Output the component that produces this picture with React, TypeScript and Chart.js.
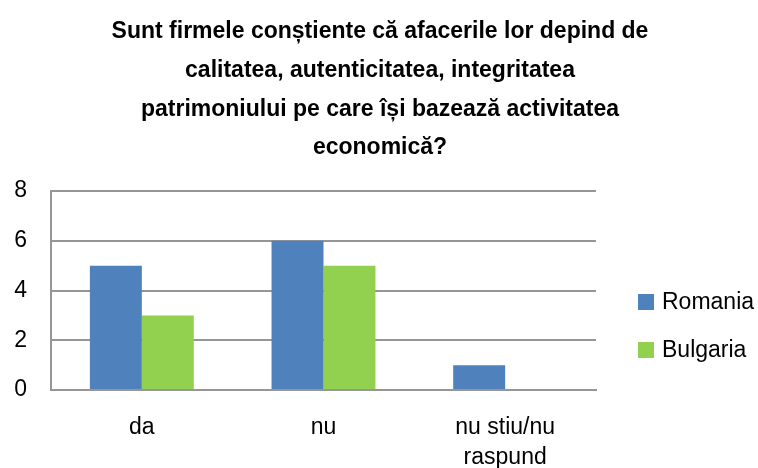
import React, { useEffect, useRef } from "react";
import { Chart, registerables } from "chart.js";

Chart.register(...registerables);

const titleLines = [
  "Sunt firmele conștiente că afacerile lor depind de",
  "calitatea, autenticitatea, integritatea",
  "patrimoniului pe care își bazează activitatea",
  "economică?",
];
const categories: (string | string[])[] = ["da", "nu", ["nu stiu/nu", "raspund"]];
const romania = [5, 6, 1];
const bulgaria = [3, 5, 0];
const seriesNames = ["Romania", "Bulgaria"];
const seriesColors = ["#4F81BD", "#92D050"];
const yTicks = [0, 2, 4, 6, 8];

const FONT = "'Liberation Sans', Arial, sans-serif";

const titlePlugin = {
  id: "centerTitle",
  afterDraw(chart: any) {
    const ctx = chart.ctx;
    ctx.save();
    ctx.font = `bold 23px ${FONT}`;
    ctx.textBaseline = "middle";
    ctx.textAlign = "center";
    ctx.fillStyle = "#000";
    titleLines.forEach((line, i) => {
      ctx.fillText(line, chart.width / 2 + 1, 32 + i * 38.7);
    });
    ctx.restore();
  },
};

const legendPlugin = {
  id: "sideLegend",
  afterDraw(chart: any) {
    const ctx = chart.ctx;
    ctx.save();
    ctx.font = `23px ${FONT}`;
    ctx.textBaseline = "middle";
    ctx.textAlign = "left";
    chart.data.datasets.forEach((ds: any, i: number) => {
      const cy = 302 + i * 48;
      ctx.fillStyle = ds.backgroundColor;
      ctx.fillRect(638, cy - 8, 16, 16);
      ctx.fillStyle = "#000";
      ctx.fillText(ds.label, 662, cy + 1);
    });
    ctx.restore();
  },
};

export default function App() {
  const ref = useRef<HTMLCanvasElement | null>(null);
  useEffect(() => {
    if (!ref.current) return;
    const chart = new Chart(ref.current, {
      type: "bar",
      data: {
        labels: categories,
        datasets: [
          { label: seriesNames[0], data: romania, backgroundColor: seriesColors[0] },
          { label: seriesNames[1], data: bulgaria, backgroundColor: seriesColors[1] },
        ],
      },
      plugins: [titlePlugin, legendPlugin],
      options: {
        animation: false,
        responsive: true,
        maintainAspectRatio: false,
        layout: { padding: { left: 0, right: 162, top: 191, bottom: 0 } },
        datasets: {
          bar: { categoryPercentage: 0.572, barPercentage: 1 },
        },
        plugins: {
          legend: { display: false },
          tooltip: { enabled: false },
          title: { display: false },
        },
        scales: {
          x: {
            grid: { display: false, drawTicks: false },
            border: { display: true, color: "#969696", width: 2 },
            ticks: {
              color: "#000",
              padding: 23,
              maxRotation: 0,
              autoSkip: false,
              font: { family: FONT, size: 23, lineHeight: 1.3 },
            },
            afterFit: (s: any) => {
              s.height = 78;
            },
          },
          y: {
            min: 0,
            max: 8,
            afterBuildTicks: (s: any) => {
              s.ticks = yTicks.map((v) => ({ value: v }));
            },
            grid: { color: "#969696", lineWidth: 2, drawTicks: false },
            border: { display: true, color: "#969696", width: 2 },
            ticks: {
              color: "#000",
              padding: 24,
              font: { family: FONT, size: 23 },
            },
            afterFit: (s: any) => {
              s.width = 51;
            },
          },
        },
      },
    });
    return () => chart.destroy();
  }, []);
  return (
    <div style={{ position: "fixed", left: 0, top: 0, width: 758, height: 468, background: "#fff" }}>
      <canvas ref={ref} />
    </div>
  );
}
